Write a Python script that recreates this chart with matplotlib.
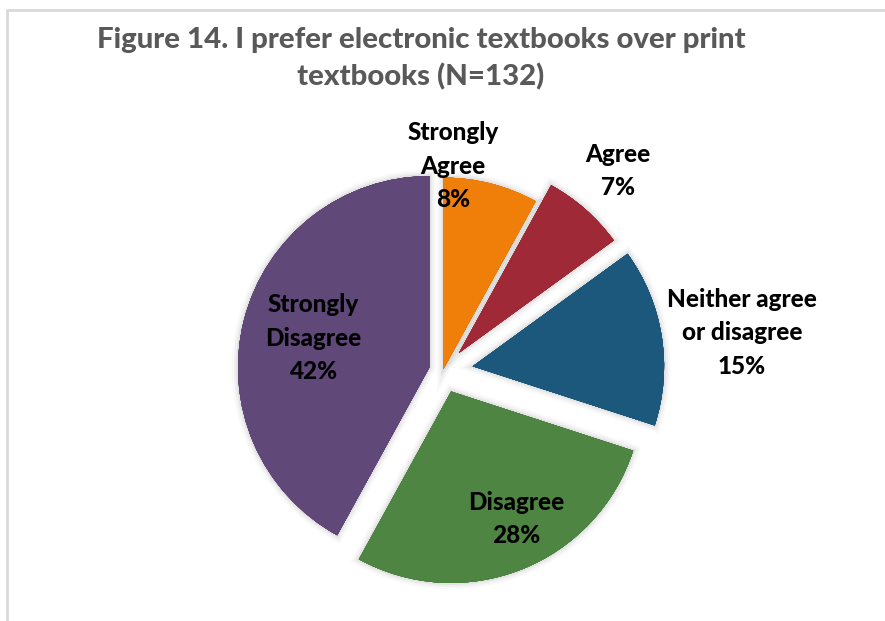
import matplotlib
matplotlib.use("Agg")
import matplotlib.pyplot as plt
import matplotlib.patheffects as pe

# data
categories = ["Strongly Agree", "Agree", "Neither agree or disagree", "Disagree", "Strongly Disagree"]
values = [8, 7, 15, 28, 42]
label_texts = ["Strongly\nAgree\n8%", "Agree\n7%", "Neither agree\nor disagree\n15%", "Disagree\n28%", "Strongly\nDisagree\n42%"]
colors = ["#F07F09", "#9F2936", "#1B587C", "#4E8542", "#604878"]
title = "Figure 14. I prefer electronic textbooks over print\ntextbooks (N=132)"

W, H = 885, 621
fig = plt.figure(figsize=(W / 100, H / 100), dpi=100)
ax = fig.add_axes([0, 0, 1, 1])

# frame border (light gray), extends past the right/bottom edges
ax.plot([7, 7, W + 10], [-10, H - 10, H - 10], color="#D9D9D9", lw=2, solid_capstyle="butt")

R = 191.5
cx, cy = 443, H - 371
explode = [2, 24, 30, 22, 14]

wedges, _ = ax.pie(values, colors=colors, startangle=90, counterclock=False,
                   radius=R, center=(cx, cy), explode=explode,
                   wedgeprops=dict(linewidth=0), frame=True)
shadow = [pe.withStroke(linewidth=9, foreground=(0, 0, 0, 0.025)),
          pe.withStroke(linewidth=6, foreground=(0, 0, 0, 0.035)),
          pe.withStroke(linewidth=3, foreground=(0, 0, 0, 0.05)),
          pe.Normal()]
for w in wedges:
    w.set_path_effects(shadow)
ax.set_xlim(0, W)
ax.set_ylim(0, H)
ax.set_aspect("equal")
ax.axis("off")

font = "Lato"
label_pos = [(453, 166), (618, 171), (742, 333), (516, 519), (313, 338)]
for txt, (x, y) in zip(label_texts, label_pos):
    ax.text(x, H - y, txt, ha="center", va="center", fontsize=17.5, fontweight="black",
            family=font, color="black", linespacing=1.55)

ax.text(421, H - 59, title, ha="center", va="center", fontsize=21.2, fontweight="black",
        family=font, color="#595959", linespacing=1.46)

fig.savefig("out.png", dpi=100)
